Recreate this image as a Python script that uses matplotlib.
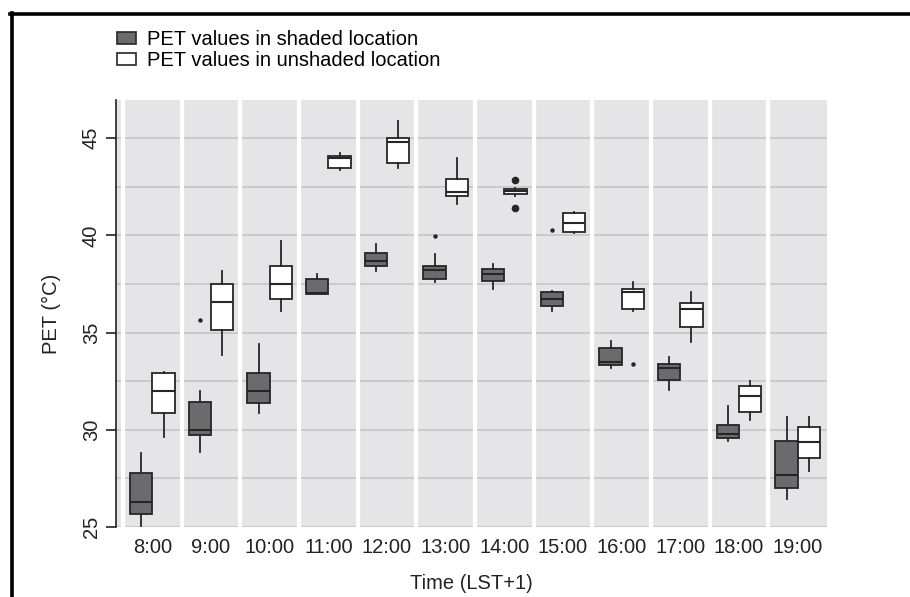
import matplotlib
matplotlib.use("Agg")
import matplotlib.pyplot as plt
from matplotlib.patches import Patch
from matplotlib.lines import Line2D

plt.rcParams['font.family'] = ['Liberation Sans', 'DejaVu Sans']

times = ["8:00", "9:00", "10:00", "11:00", "12:00", "13:00", "14:00",
         "15:00", "16:00", "17:00", "18:00", "19:00"]

# shaded location: whisker low, q1, median, q3, whisker high
shaded_whislo = [25.06, 28.88, 30.89, 36.98, 38.17, 37.62, 37.23, 36.11, 33.17, 32.05, 29.40, 26.43]
shaded_q1     = [25.68, 29.74, 31.40, 36.98, 38.43, 37.74, 37.66, 36.39, 33.34, 32.57, 29.57, 27.03]
shaded_med    = [26.30, 30.00, 32.00, 37.05, 38.70, 38.22, 38.00, 36.73, 33.51, 33.17, 29.78, 27.65]
shaded_q3     = [27.77, 31.42, 32.91, 37.76, 39.11, 38.45, 38.26, 37.08, 34.21, 33.37, 30.25, 29.43]
shaded_whishi = [28.80, 32.00, 34.40, 38.03, 39.56, 39.03, 38.55, 37.16, 34.59, 33.73, 31.20, 30.68]
shaded_out    = [[], [35.66], [], [], [], [39.97], [], [40.26], [], [], [], []]

# unshaded location
unshaded_whislo = [29.65, 33.85, 36.13, 43.37, 43.45, 41.62, 42.05, 40.11, 36.13, 34.51, 30.48, 27.89]
unshaded_q1     = [30.86, 35.14, 36.73, 43.48, 43.74, 42.03, 42.15, 40.19, 36.22, 35.31, 30.91, 28.54]
unshaded_med    = [32.00, 36.58, 37.50, 44.00, 44.79, 42.25, 42.29, 40.66, 37.09, 36.22, 31.76, 29.35]
unshaded_q3     = [32.90, 37.50, 38.45, 44.08, 45.00, 42.90, 42.40, 41.14, 37.26, 36.51, 32.26, 30.17]
unshaded_whishi = [33.00, 38.17, 39.73, 44.26, 45.88, 44.00, 42.45, 41.22, 37.59, 37.11, 32.53, 30.68]
unshaded_out    = [[], [], [], [], [], [], [42.85, 41.40], [], [33.37], [], [], []]

legend_labels = ["PET values in shaded location", "PET values in unshaded location"]

W, H = 910, 597
fig = plt.figure(figsize=(W / 100, H / 100), dpi=100)
ax = fig.add_axes([116 / W, 1 - 527 / H, (827 - 116) / W, (527 - 100) / H])

panel = '#e5e5e8'
ax.set_facecolor(panel)
ax.set_xlim(-0.62, 11.5)
ax.set_ylim(25, 46.97)

# grid: horizontal grey lines every 2.5, vertical white lines between categories
for yv in [25 + 2.5 * k for k in range(9)]:
    ax.axhline(yv, color='#c3c3c6', lw=1.1, zorder=0.5)
for k in range(len(times)):
    ax.axvline(k - 0.5, color='white', lw=3.0, zorder=0.6)


def stats(wl, q1, med, q3, wh, out):
    return [dict(whislo=a, q1=b, med=c, q3=d, whishi=e, fliers=f)
            for a, b, c, d, e, f in zip(wl, q1, med, q3, wh, out)]


s_stats = stats(shaded_whislo, shaded_q1, shaded_med, shaded_q3, shaded_whishi, shaded_out)
u_stats = stats(unshaded_whislo, unshaded_q1, unshaded_med, unshaded_q3, unshaded_whishi, unshaded_out)

off = 0.19
bw = 0.38
edge = '#262626'
dark = '#6b6b6d'
common = dict(widths=bw, patch_artist=True, showcaps=False,
              whiskerprops=dict(color=edge, lw=1.3),
              medianprops=dict(color=edge, lw=1.5),
              flierprops=dict(marker='o', markerfacecolor=edge, markeredgecolor=edge,
                              markersize=2.2, linestyle='none'),
              manage_ticks=False, zorder=3)
bs = ax.bxp(s_stats, positions=[i - off for i in range(len(times))],
            boxprops=dict(facecolor=dark, edgecolor=edge, lw=1.3), **common)
bu = ax.bxp(u_stats, positions=[i + off for i in range(len(times))],
            boxprops=dict(facecolor='white', edgecolor=edge, lw=1.3), **common)
for i, fl in enumerate(bu['fliers']):
    if len(unshaded_out[i]) > 1:
        fl.set_markersize(4.5)

ax.set_xticks(range(len(times)))
ax.set_xticklabels(times)
ax.set_yticks([25, 30, 35, 40, 45])
ax.set_yticklabels(['25', '30', '35', '40', '45'], rotation=90, va='center')
ax.tick_params(axis='x', length=0, pad=8, labelsize=14.5, colors='#222222')
ax.tick_params(axis='y', length=7, width=1.2, pad=4, labelsize=14.5, colors='#222222')
for sp in ['top', 'right', 'bottom']:
    ax.spines[sp].set_visible(False)
ax.spines['left'].set_color('#222222')
ax.spines['left'].set_linewidth(1.2)

ax.set_xlabel("Time (LST+1)", fontsize=14.5, color='#222222', labelpad=12)
ax.set_ylabel("PET (\u00b0C)", fontsize=14.5, color='#222222', labelpad=15)

handles = [Patch(facecolor=dark, edgecolor=edge, lw=1.2),
           Patch(facecolor='white', edgecolor=edge, lw=1.2)]
fig.legend(handles, legend_labels, loc='upper left', bbox_to_anchor=(117 / W, 1 - 30 / H),
           frameon=False, fontsize=14.5, handlelength=0.95, handleheight=0.55,
           handletextpad=0.55, labelspacing=0.12, borderaxespad=0, borderpad=0)

# figure frame (top and left thick black lines)
fig.add_artist(Line2D([10 / W, 1.0], [1 - 13.5 / H, 1 - 13.5 / H], color='black', lw=2.6,
                      transform=fig.transFigure))
fig.add_artist(Line2D([11.5 / W, 11.5 / W], [1 - 12.5 / H, 0], color='black', lw=2.6,
                      transform=fig.transFigure))

fig.savefig("out.png", dpi=100)
